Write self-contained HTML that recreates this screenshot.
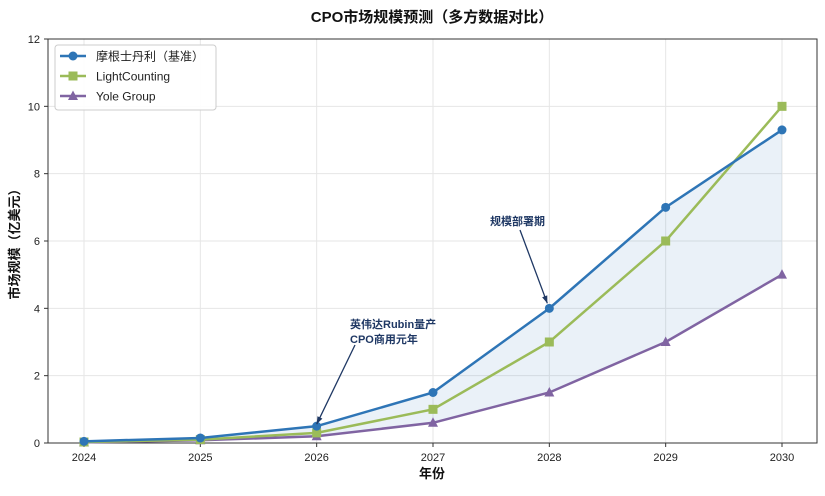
<!DOCTYPE html>
<html><head><meta charset="utf-8"><style>
body{margin:0;background:#fff;}
svg text{font-family:"Liberation Sans","Noto Sans CJK SC",sans-serif;}
</style></head><body>
<svg id="c" width="825" height="491"></svg>
<script>
const years=[2024,2025,2026,2027,2028,2029,2030];
const morgan=[0.05,0.15,0.5,1.5,4,7,9.3];
const lightcounting=[0.03,0.1,0.3,1.0,3.0,6.0,10];
const yole=[0.02,0.08,0.2,0.6,1.5,3,5];
const yTicks=[0,2,4,6,8,10,12];
const NS="http://www.w3.org/2000/svg";
const svg=document.getElementById('c');
const L=48,R=817,T=39,B=443;
const x=i=>84+(782-84)*i/(years.length-1);
const y=v=>B-(B-T)*v/12;
function el(t,a,p){const e=document.createElementNS(NS,t);for(const k in a)e.setAttribute(k,a[k]);(p||svg).appendChild(e);return e;}
// grid
yTicks.forEach(v=>{const g=el('line',{x1:L,x2:R,y1:y(v),y2:y(v),stroke:'#e6e6e6'});


el('line',{x1:L-4,x2:L,y1:y(v),y2:y(v),stroke:'#333'});
const t=el('text',{x:L-8,y:y(v)+4,'text-anchor':'end','font-size':11,fill:'#222'});t.textContent=v;

});
years.forEach((yr,i)=>{el('line',{x1:x(i),x2:x(i),y1:T,y2:B,stroke:'#e6e6e6'});
el('line',{x1:x(i),x2:x(i),y1:B,y2:B+4,stroke:'#333'});
const t=el('text',{x:x(i),y:B+18,'text-anchor':'middle','font-size':11,fill:'#222'});t.textContent=yr;

});
// fill
let d='M'+years.map((_,i)=>x(i)+','+y(morgan[i])).join('L')+'L'+years.map((_,i)=>x(i)+','+y(yole[i])).reverse().join('L')+'Z';
const band=el('path',{d:d,fill:'#2e75b6','fill-opacity':0.1});


el('rect',{x:L,y:T,width:R-L,height:B-T,fill:'none',stroke:'#333'});
function series(vals,color,marker,name){
const p=el('polyline',{points:vals.map((v,i)=>x(i)+','+y(v)).join(' '),fill:'none',stroke:color,'stroke-width':2.5});


vals.forEach((v,i)=>{let m;const cx=x(i),cy=y(v);
if(marker=='o')m=el('circle',{cx:cx,cy:cy,r:4.5,fill:color});
else if(marker=='s')m=el('rect',{x:cx-4.5,y:cy-4.5,width:9,height:9,fill:color});
else m=el('polygon',{points:`${cx},${cy-5.5} ${cx-5},${cy+4} ${cx+5},${cy+4}`,fill:color});

});}
series(yole,'#8064a2','^','yole');
series(lightcounting,'#9bbb59','s','lightcounting');
series(morgan,'#2e75b6','o','morgan');
// annotations
function arrow(x1,y1,x2,y2){el('line',{x1:x1,y1:y1,x2:x2,y2:y2,stroke:'#1f3864','stroke-width':1.3});
const a=Math.atan2(y2-y1,x2-x1),s=8;
el('polygon',{points:`${x2},${y2} ${x2-s*Math.cos(a-0.35)},${y2-s*Math.sin(a-0.35)} ${x2-s*Math.cos(a+0.35)},${y2-s*Math.sin(a+0.35)}`,fill:'#1f3864'});}
arrow(355,345,x(2),y(morgan[2])-2);
arrow(520,230,x(4)-2,y(morgan[4])-5);
let a1=el('text',{x:350,y:328,'font-size':11,'font-weight':'bold',fill:'#1f3864'});a1.textContent='英伟达Rubin量产';

let a2=el('text',{x:350,y:343,'font-size':11,'font-weight':'bold',fill:'#1f3864'});a2.textContent='CPO商用元年';
let a3=el('text',{x:490,y:225,'font-size':11,'font-weight':'bold',fill:'#1f3864'});a3.textContent='规模部署期';

// titles
let t=el('text',{x:432,y:22,'text-anchor':'middle','font-size':15,'font-weight':'bold',fill:'#111'});t.textContent='CPO市场规模预测（多方数据对比）';

let xt=el('text',{x:432,y:478,'text-anchor':'middle','font-size':13,'font-weight':'bold',fill:'#111'});xt.textContent='年份';

let yt=el('text',{x:0,y:0,'text-anchor':'middle','font-size':13,'font-weight':'bold',fill:'#111',transform:'translate(19,241) rotate(-90)'});yt.textContent='市场规模（亿美元）';

// legend
const lg=el('g',{});
el('rect',{x:55,y:45,width:161,height:65,rx:3,fill:'#fff','fill-opacity':0.9,stroke:'#ccc'},lg);
[['摩根士丹利（基准）','#2e75b6','o'],['LightCounting','#9bbb59','s'],['Yole Group','#8064a2','^']].forEach((e,i)=>{
const cy=56+i*20,g=el('g',{},lg);


el('line',{x1:60,x2:86,y1:cy,y2:cy,stroke:e[1],'stroke-width':2.5},g);
if(e[2]=='o')el('circle',{cx:73,cy:cy,r:4.5,fill:e[1]},g);
else if(e[2]=='s')el('rect',{x:68.5,y:cy-4.5,width:9,height:9,fill:e[1]},g);
else el('polygon',{points:`73,${cy-5.5} 68,${cy+4} 78,${cy+4}`,fill:e[1]},g);
const tx=el('text',{x:96,y:cy+4.5,'font-size':12,fill:'#222'},g);tx.textContent=e[0];});
</script>
</body></html>
